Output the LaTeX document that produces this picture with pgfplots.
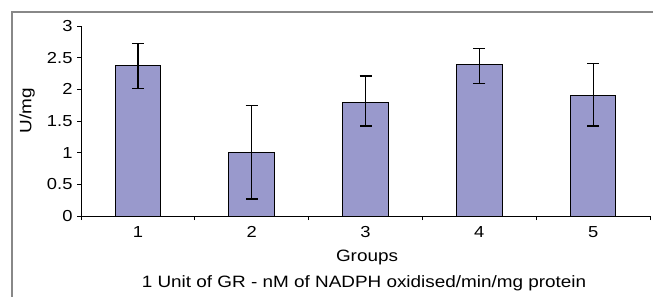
\documentclass[border=0pt]{standalone}
\usepackage{pgfplots}
\pgfplotsset{compat=1.18}
\usepackage{fontspec}
\setmainfont[FakeStretch=1.15]{Liberation Sans}
\definecolor{barfill}{HTML}{9999CC}
\definecolor{framegray}{HTML}{888888}
\begin{document}
\begin{tikzpicture}[x=1bp,y=1bp]
\useasboundingbox (0,0) rectangle (653,-296);
\clip (0,0) rectangle (653,-296);
\draw[framegray, line width=1.2bp] (12,-12) rectangle (670,-310);
\begin{axis}[
  at={(81bp,-216bp)}, anchor=origin,
  scale only axis, width=569bp, height=190bp,
  xmin=0.5, xmax=5.5, ymin=0, ymax=3,
  axis lines*=left,
  axis line style={line width=0.9bp, black},
  xtick={1,2,3,4,5},
  xticklabels={1,2,3,4,5},
  major x tick style={draw=none},
  minor xtick={0.5,1.5,2.5,3.5,4.5,5.5},
  minor x tick style={line width=0.9bp, black},
  ytick={0,0.5,1,1.5,2,2.5,3},
  yticklabels={0,0.5,1,1.5,2,2.5,3},
  y tick style={line width=0.9bp, black},
  tick align=outside,
  major tick length=4bp, minor tick length=4bp,
  tick label style={font=\fontsize{16}{18}\selectfont},
  xticklabel style={yshift=-3bp},
  yticklabel style={xshift=-1bp},
  clip=false,
]
\addplot[ybar, bar width=0.4, fill=barfill, draw=black, line width=1bp,
  error bars/.cd, y dir=both, y explicit, error bar style={line width=1.2bp, black}, error mark options={rotate=90, mark size=6bp, line width=1.2bp}]
  coordinates {
  (1,2.37) +- (0,0.36)
  (2,1.01) +- (0,0.74)
  (3,1.80) += (0,0.41) -= (0,0.38)
  (4,2.39) += (0,0.26) -= (0,0.30)
  (5,1.91) += (0,0.50) -= (0,0.49)
  };
\end{axis}
\node[font=\fontsize{16.5}{19}\selectfont, rotate=90, anchor=center] at (27,-111) {U/mg};
\node[font=\fontsize{16.5}{19}\selectfont, anchor=center] at (367,-257) {Groups};
\node[font=\fontsize{16.5}{19}\selectfont, anchor=center] at (364,-283) {1 Unit of GR - nM of NADPH oxidised/min/mg protein};
\end{tikzpicture}
\end{document}
